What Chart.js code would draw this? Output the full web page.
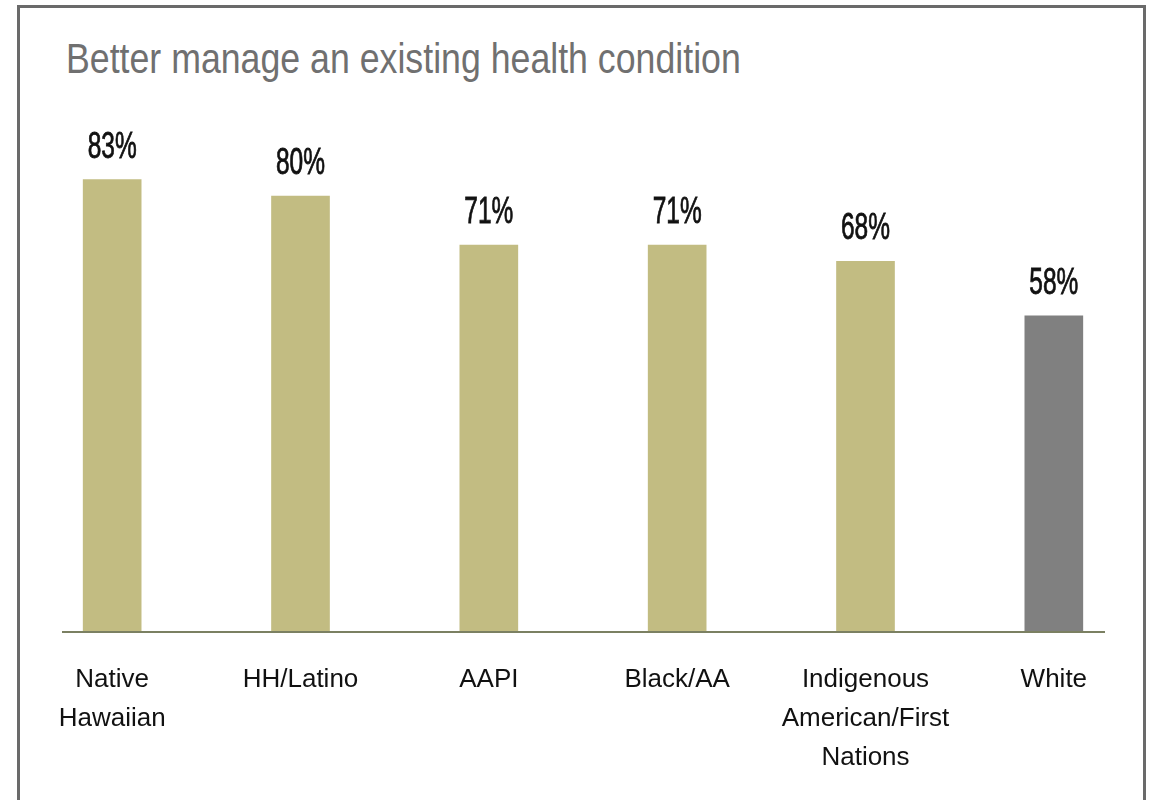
<!DOCTYPE html>
<html>
<head>
<meta charset="utf-8">
<script src="https://cdn.jsdelivr.net/npm/chart.js@4/dist/chart.umd.min.js"></script>
<style>
  html, body { margin: 0; padding: 0; background: #fff; }
  #wrap { position: relative; width: 1152px; height: 800px; overflow: hidden; }
  #frame { position: absolute; left: 17px; top: 5px; width: 1123px; height: 900px; border: 3px solid #6a6a6a; }
  #title { position: absolute; left: 66px; top: 38px; font: 42px/42px "Liberation Sans", sans-serif; color: #707070; white-space: nowrap; transform: scaleX(0.85); transform-origin: left top; }
  #chart { position: absolute; left: 0; top: 0; }
</style>
</head>
<body>
<div id="wrap">
  <div id="frame"></div>
  <div id="title">Better manage an existing health condition</div>
  <canvas id="chart" width="1152" height="800"></canvas>
</div>
<script>
const categories = [['Native', 'Hawaiian'], 'HH/Latino', 'AAPI', 'Black/AA', ['Indigenous', 'American/First', 'Nations'], 'White']
const values = [83, 80, 71, 71, 68, 58]
const barColors = ['#c2bc82', '#c2bc82', '#c2bc82', '#c2bc82', '#c2bc82', '#808080']

// value labels above the bars + the short base line
const extras = {
    id: 'extras',
    afterDatasetsDraw(chart) {
        const ctx = chart.ctx
        const y0 = chart.scales.y.getPixelForValue(0)
        ctx.save()
        ctx.strokeStyle = '#7b8062'
        ctx.lineWidth = 2
        ctx.beginPath()
        ctx.moveTo(62, y0)
        ctx.lineTo(1105, y0)
        ctx.stroke()
        chart.getDatasetMeta(0).data.forEach((bar, i) => {
            ctx.save()
            ctx.translate(bar.x, bar.y - 22)
            ctx.scale(0.68, 1)
            ctx.fillStyle = '#111'
            ctx.strokeStyle = '#111'
            ctx.lineWidth = 0.8
            ctx.font = '36px "Liberation Sans", sans-serif'
            ctx.textAlign = 'center'
            ctx.textBaseline = 'alphabetic'
            ctx.fillText(values[i] + '%', 0, 0)
            ctx.strokeText(values[i] + '%', 0, 0)
            ctx.restore()
        })
        ctx.restore()
    }
}

new Chart(document.getElementById('chart'), {
    type: 'bar',
    data: {
        labels: categories,
        datasets: [{
            data: values,
            backgroundColor: barColors,
            barThickness: 58
        }]
    },
    options: {
        responsive: false,
        animation: false,
        layout: { padding: { left: 18, right: 4, top: 87, bottom: 0 } },
        plugins: { legend: { display: false }, tooltip: { enabled: false } },
        scales: {
            y: { display: false, min: 0, max: 100 },
            x: {
                grid: { display: false },
                border: { display: false },
                ticks: {
                    color: '#111',
                    padding: 20,
                    maxRotation: 0,
                    autoSkip: false,
                    font: { family: '"Liberation Sans", sans-serif', size: 26, lineHeight: 1.5 }
                },
                afterFit(scale) { scale.height = 168 }
            }
        }
    },
    plugins: [extras]
})
</script>
</body>
</html>
